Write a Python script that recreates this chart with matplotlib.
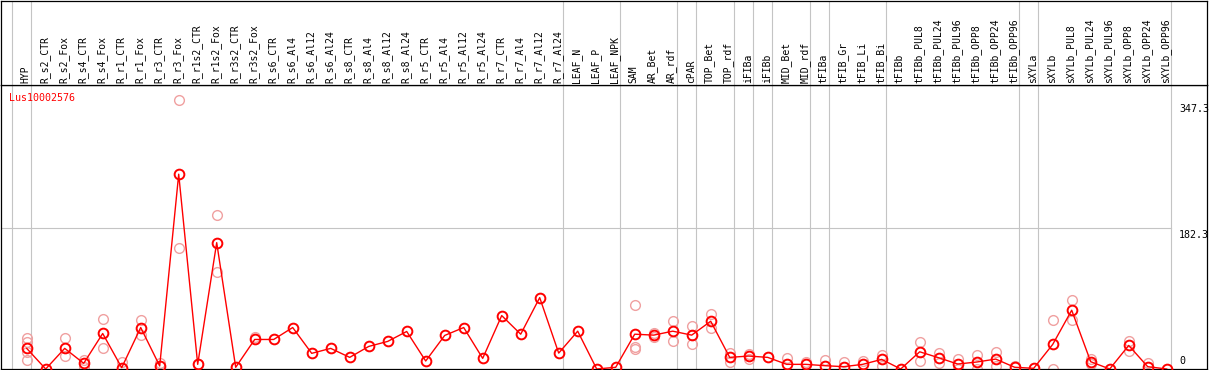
import matplotlib
matplotlib.use("Agg")
import matplotlib.pyplot as plt

# ---------------- data ----------------
categories = ["HYP", "R_s2_CTR", "R_s2_Fox", "R_s4_CTR", "R_s4_Fox", "R_r1_CTR", "R_r1_Fox",
              "R_r3_CTR", "R_r3_Fox", "R_r1s2_CTR", "R_r1s2_Fox", "R_r3s2_CTR", "R_r3s2_Fox",
              "R_s6_CTR", "R_s6_Al4", "R_s6_Al12", "R_s6_Al24", "R_s8_CTR", "R_s8_Al4",
              "R_s8_Al12", "R_s8_Al24", "R_r5_CTR", "R_r5_Al4", "R_r5_Al12", "R_r5_Al24",
              "R_r7_CTR", "R_r7_Al4", "R_r7_Al12", "R_r7_Al24", "LEAF_N", "LEAF_P", "LEAF_NPK",
              "SAM", "AR_Bet", "AR_rdf", "cPAR", "TOP_Bet", "TOP_rdf", "iFIBa", "iFIBb",
              "MID_Bet", "MID_rdf", "tFIBa", "tFIB_Gr", "tFIB_Li", "tFIB_Bi", "tFIBb",
              "tFIBb_PUL8", "tFIBb_PUL24", "tFIBb_PUL96", "tFIBb_OPP8", "tFIBb_OPP24",
              "tFIBb_OPP96", "sXYLa", "sXYLb", "sXYLb_PUL8", "sXYLb_PUL24", "sXYLb_PUL96",
              "sXYLb_OPP8", "sXYLb_OPP24", "sXYLb_OPP96"]

means = [26.6, 0, 26.6, 7.3, 45.8, 1.7, 53.5, 3.9, 251.3, 6.0, 163.0, 2.2, 38.1,
         38.1, 53.5, 20.2, 26.6, 15.0, 29.1, 35.6, 48.4, 10.3, 43.3, 53.5, 13.7,
         68.9, 44.9, 92.1, 20.5, 48.8, 0, 2.2, 44.9, 43.7, 48.8, 43.7, 61.6, 15.0,
         16.7, 15.0, 6.0, 6.0, 4.3, 3.0, 6.0, 12.4, 0, 22.2, 14.5, 6.4, 9.0, 12.8,
         2.2, 0.9, 31.7, 75.8, 9.4, 0, 30.4, 3.0, 0]

replicates = [[39.4, 35.0, 21.4, 11.6], [], [39.4, 17.1], [11.6, 3.0], [65.1, 27.4],
              [9.4], [62.9, 43.7], [8.1], [347.6, 156.3], [6.4], [198.6, 125.4],
              [2.2], [41.5], [], [], [], [], [], [], [], [], [], [], [], [], [], [],
              [], [], [], [], [], [83.1, 28.6, 25.3], [45.8, 40.7], [62.5, 36.0],
              [56.1, 31.7], [70.6, 53.5], [20.2, 9.4], [18.8, 12.8], [], [13.7],
              [9.4], [11.6], [8.6], [10.3], [18.4, 3.9], [], [34.3, 10.7],
              [20.9, 8.1], [12.8, 0.4], [17.6, 0], [21.8, 3.9], [4.3], [],
              [63.3, 0], [88.6, 63.8], [13.2, 6.0], [], [36.0, 23.5], [7.3], []]

group_ends = [-1, 0, 28, 31, 34, 35, 37, 38, 39, 41, 42, 45, 52, 53, 60]
gene = "Lus10002576"
scale_labels = [347.3, 182.3, 0]
ref_line = 182.3

# ---------------- layout ----------------
W, H = 1209, 370
fig = plt.figure(figsize=(W / 100, H / 100), dpi=100)
fig.patch.set_facecolor("white")

x0_px, step_px = 26.7, 19.0
xl = ((1 - x0_px) / step_px, (1207 - x0_px) / step_px)
vpp = 1.29  # value per pixel
ytop = (369 - 85) * vpp

ax = fig.add_axes([1 / W, 1 / H, 1206 / W, 284 / H])
axh = fig.add_axes([1 / W, 285 / H, 1206 / W, 84.5 / H])

for a in (ax, axh):
    a.set_xlim(*xl)
    a.set_xticks([])
    a.set_yticks([])
    for s in a.spines.values():
        s.set_color("black")
        s.set_linewidth(0.9)
ax.set_ylim(0, ytop)
axh.set_ylim(0, 1)

grey = "#c4c4c4"
last_b = group_ends[-1] + 0.23
for g in group_ends:
    ax.axvline(g + 0.23, color=grey, lw=0.8, zorder=1)
    axh.axvline(g + 0.23, color=grey, lw=0.8, zorder=1)
ax.plot([xl[0], last_b], [ref_line, ref_line], color=grey, lw=0.8, zorder=1)

xs = list(range(len(categories)))
# replicates
rx, ry = [], []
for i, reps in enumerate(replicates):
    for r in reps:
        rx.append(i)
        ry.append(r)
ax.plot(rx, ry, linestyle="none", marker="o", markersize=7.0, markerfacecolor="none",
        markeredgecolor="#f0a0a0", markeredgewidth=1.0, zorder=2)
# mean line
ax.plot(xs, means, color="#ff0000", lw=1.0, zorder=3)
ax.plot(xs, means, linestyle="none", marker="o", markersize=7.0, markerfacecolor="none",
        markeredgecolor="#ff0000", markeredgewidth=1.4, zorder=4)

mono = "DejaVu Sans Mono"
ax.text(8 / 1206, (369 - 93) / 284, gene, color="#ff0000", fontsize=7.2, family=mono,
        transform=ax.transAxes, ha="left", va="top")

for v in scale_labels:
    if v == 0:
        ax.annotate("0", xy=(last_b, 0), xytext=(8, 3), textcoords="offset pixels",
                    ha="left", va="bottom", fontsize=7.2, family=mono, color="black")
    else:
        ax.annotate(f"{v}", xy=(last_b, v), xytext=(8, -4 if v > ref_line else -2),
                    textcoords="offset pixels", ha="left", va="top", fontsize=7.2,
                    family=mono, color="black")

for i, c in enumerate(categories):
    axh.text(i - 0.05, 2 / 84.5, c, rotation=90, ha="center", va="bottom",
             fontsize=7.0, family=mono, color="black")

fig.savefig("out.png", dpi=100, facecolor="white")
